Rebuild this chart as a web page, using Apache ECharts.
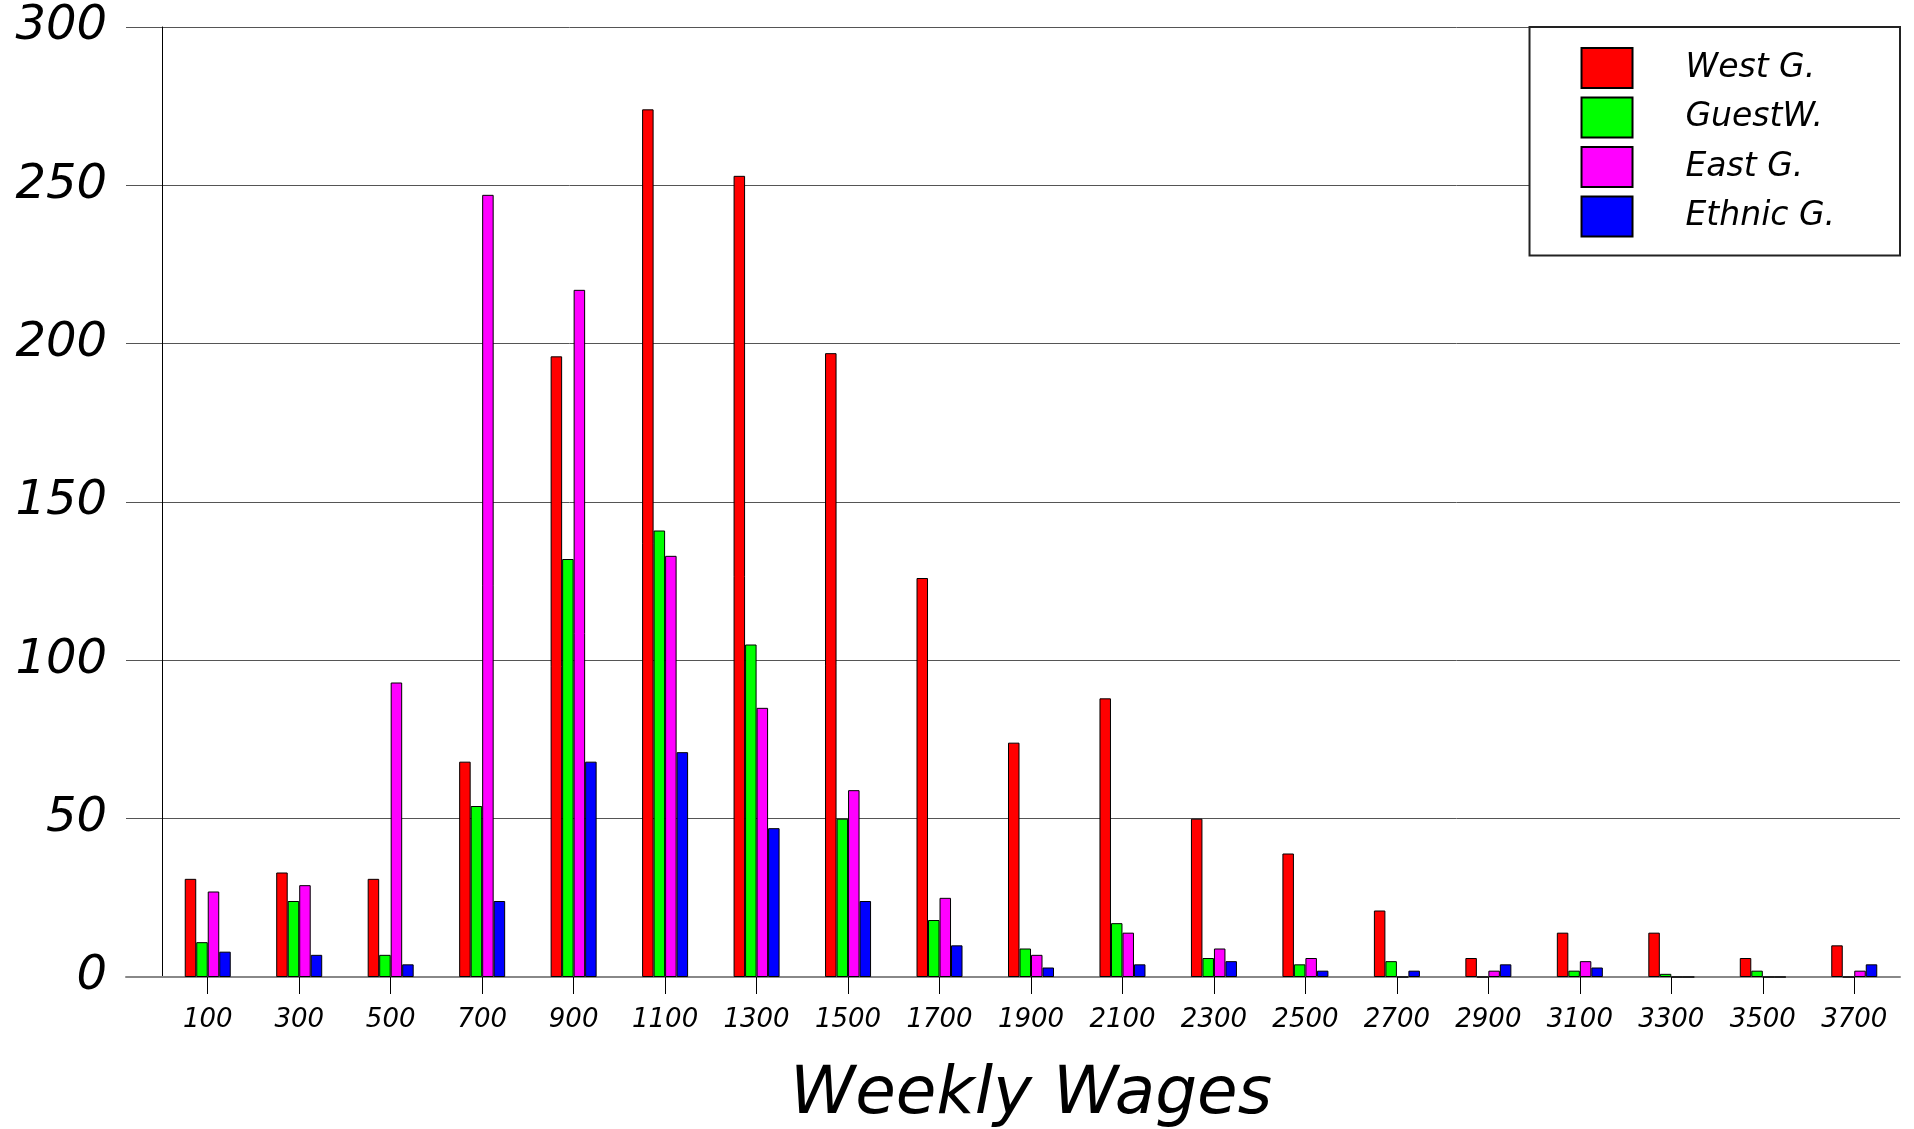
<!DOCTYPE html>
<html>
<head>
<meta charset="utf-8">
<script src="https://cdn.jsdelivr.net/npm/echarts@6/dist/echarts.min.js"></script>
<style>
html,body{margin:0;padding:0;background:#fff;}
#chart{width:1914px;height:1129px;}
</style>
</head>
<body>
<div id="chart"></div>
<script>
const categories = ['100','300','500','700','900','1100','1300','1500','1700','1900','2100','2300','2500','2700','2900','3100','3300','3500','3700'];
const seriesNames = ['West G.','GuestW.','East G.','Ethnic G.'];
const westG   = [31,33,31,68,196,274,253,197,126,74,88,50,39,21,6,14,14,6,10];
const guestW  = [11,24,7,54,132,141,105,50,18,9,17,6,4,5,0,2,1,2,0];
const eastG   = [27,29,93,247,217,133,85,59,25,7,14,9,6,0,2,5,0,0,2];
const ethnicG = [8,7,4,24,68,71,47,24,10,3,4,5,2,2,4,3,0,0,4];
const colors = ['#ff0000','#00ff00','#ff00ff','#0000ff'];
const yTicks = [0,50,100,150,200,250,300];

const FONT = 'DejaVu Sans';
const dataSets = [westG, guestW, eastG, ethnicG];

const chart = echarts.init(document.getElementById('chart'));
const option = {
  animation: false,
  backgroundColor: '#ffffff',
  grid: [
    {left: 126, right: 14, top: 27, bottom: 152, containLabel: false, outerBoundsMode: 'none'},
    {left: 162, right: 14, top: 27, bottom: 152, containLabel: false, outerBoundsMode: 'none'}
  ],
  legend: {
    data: seriesNames,
    orient: 'vertical',
    right: 14,
    top: 27,
    itemWidth: 51,
    itemHeight: 40,
    itemGap: 7.5,
    icon: 'rect',
    padding: [20, 65, 18, 51],
    borderColor: '#222',
    borderWidth: 2,
    backgroundColor: '#fff',
    textStyle: {
      fontFamily: FONT, fontStyle: 'italic', fontSize: 33, color: '#000',
      padding: [0, 0, 0, 48], width: 167
    }
  },
  xAxis: [
    {
      type: 'category', gridIndex: 0, data: categories,
      axisLine: {show: true, lineStyle: {color: '#888', width: 2}},
      axisTick: {show: false}, axisLabel: {show: false}, splitLine: {show: false}
    },
    {
      type: 'category', gridIndex: 1, data: categories,
      axisLine: {show: false},
      axisTick: {show: true, alignWithLabel: true, length: 17, lineStyle: {color: '#000', width: 1}},
      axisLabel: {fontFamily: FONT, fontStyle: 'italic', fontSize: 26, color: '#000', margin: 30},
      name: 'Weekly Wages',
      nameLocation: 'middle',
      nameGap: 86,
      nameTextStyle: {fontFamily: FONT, fontStyle: 'italic', fontSize: 66, color: '#000'}
    }
  ],
  yAxis: [
    {
      type: 'value', gridIndex: 0, min: 0, max: 300, interval: 50,
      axisLine: {show: false}, axisTick: {show: false}, axisLabel: {show: false},
      splitLine: {show: true, lineStyle: {color: '#555', width: 1}}
    },
    {
      type: 'value', gridIndex: 1, min: yTicks[0], max: yTicks[yTicks.length - 1], interval: 50,
      axisLine: {show: true, lineStyle: {color: '#000', width: 1}},
      axisTick: {show: false},
      splitLine: {show: false},
      axisLabel: {fontFamily: FONT, fontStyle: 'italic', fontSize: 48, color: '#000', margin: 55}
    }
  ],
  series: seriesNames.map((name, i) => ({
    name: name,
    type: 'bar',
    xAxisIndex: 1,
    yAxisIndex: 1,
    data: dataSets[i],
    barWidth: 11.5,
    barGap: '0%',
    itemStyle: {color: colors[i], borderColor: '#000', borderWidth: 1}
  }))
};
chart.setOption(option);
</script>
</body>
</html>
